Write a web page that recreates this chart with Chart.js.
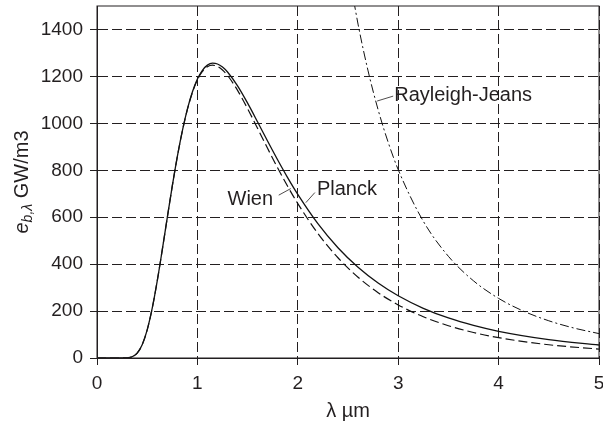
<!DOCTYPE html>
<html>
<head>
<meta charset="utf-8">
<script src="https://cdn.jsdelivr.net/npm/chart.js@4/dist/chart.umd.min.js"></script>
<style>
    html, body { margin: 0; padding: 0; background: #fff; }
    #wrap { width: 603px; height: 421px; }
</style>
</head>
<body>
<div id="wrap"><canvas id="bbChart" width="603" height="421"></canvas></div>
<script>
// Datos (T = 2500 K), GW/m3
const lambdaPW = [0, 0.1, 0.2, 0.3, 0.35, 0.4, 0.45, 0.5, 0.55, 0.6, 0.65, 0.7, 0.75, 0.8, 0.85, 0.9, 0.95,
    1.0, 1.05, 1.1, 1.15, 1.2, 1.25, 1.3, 1.4, 1.5, 1.6, 1.7, 1.8, 1.9, 2.0, 2.2, 2.4, 2.6, 2.8, 3.0,
    3.25, 3.5, 3.75, 4.0, 4.5, 5.0];
const planckValues = [0, 0, 0, 0.7, 5.2, 20.6, 56.6, 120.1, 212.2, 328.6, 460.7, 598.3, 733.5, 858.4, 968.2, 1060.3, 1133.6,
    1188.7, 1226.1, 1248.0, 1256.3, 1252.8, 1239.8, 1218.8, 1159.6, 1085.9, 1005.6, 923.7, 843.9, 767.9, 697.3, 572.6, 469.9, 386.5, 319.3, 265.1,
    211.7, 170.5, 138.6, 113.6, 78.2, 55.4];
const wienValues = [0, 0, 0, 0.7, 5.2, 20.6, 56.6, 120.1, 212.2, 328.5, 460.6, 598.2, 733.2, 857.7, 967.2, 1058.5, 1130.9,
    1184.9, 1221.2, 1241.5, 1247.9, 1242.4, 1227.3, 1204.3, 1140.5, 1062.5, 978.0, 892.4, 809.4, 730.8, 658.1, 530.7, 427.2, 344.3, 278.4, 226.1,
    175.7, 137.6, 108.8, 86.7, 56.4, 37.9];
const lambdaRJ = [2.5, 2.6, 2.7, 2.8, 2.9, 3.0, 3.25, 3.5, 3.75, 4.0, 4.25, 4.5, 4.75, 5.0];
const rjValues = [1664.5, 1422.8, 1223.5, 1057.8, 919.3, 802.7, 582.8, 433.3, 328.8, 254.0, 199.3, 158.6, 127.7, 104.0];

const xTicks = [0, 1, 2, 3, 4, 5];
const yTicks = [0, 200, 400, 600, 800, 1000, 1200, 1400];

// Etiquetas de las curvas (coordenadas en unidades de datos)
const curveLabels = [
    { text: 'Wien', at: [1.30, 677], from: [1.81, 694], to: [1.93, 722] },
    { text: 'Planck', at: [2.19, 720], from: [2.08, 662], to: [2.17, 705] },
    { text: 'Rayleigh-Jeans', at: [2.96, 1120], from: [2.79, 1095], to: [2.95, 1116] }
];

const FONT = "'Liberation Sans', Arial, Helvetica, sans-serif";
const INK = '#231f20';

function toPoints(xs, ys) {
    return xs.map((x, i) => ({ x: x, y: ys[i] }));
}

// Marco, etiquetas y titulos de ejes
const decorPlugin = {
    id: 'decor',
    afterDraw(chart) {
        const ctx = chart.ctx;
        const area = chart.chartArea;
        const xs = chart.scales.x;
        const ys = chart.scales.y;

        ctx.save();
        ctx.strokeStyle = INK;
        ctx.lineWidth = 1;
        ctx.setLineDash([]);
        ctx.strokeRect(area.left, area.top, area.right - area.left, area.bottom - area.top);

        // Etiquetas con linea guia
        ctx.fillStyle = INK;
        ctx.font = '20px ' + FONT;
        ctx.textAlign = 'left';
        ctx.textBaseline = 'middle';
        curveLabels.forEach(lbl => {
            ctx.beginPath();
            ctx.moveTo(xs.getPixelForValue(lbl.from[0]), ys.getPixelForValue(lbl.from[1]));
            ctx.lineTo(xs.getPixelForValue(lbl.to[0]), ys.getPixelForValue(lbl.to[1]));
            ctx.lineWidth = 0.8;
            ctx.stroke();
            ctx.fillText(lbl.text, xs.getPixelForValue(lbl.at[0]), ys.getPixelForValue(lbl.at[1]));
        });

        // Titulo eje x
        ctx.textAlign = 'center';
        ctx.fillText('\u03bb \u00b5m', (area.left + area.right) / 2, 411);

        // Titulo eje y: e_{b,λ} GW/m3
        const main = '20px ' + FONT;
        const ital = 'italic 20px ' + FONT;
        const sub = 'italic 14px ' + FONT;
        ctx.font = ital; const w1 = ctx.measureText('e').width;
        ctx.font = sub; const w2 = ctx.measureText('b,\u03bb').width;
        ctx.font = main; const w3 = ctx.measureText(' GW/m3').width;
        const total = w1 + w2 + w3;
        ctx.translate(21, (area.top + area.bottom) / 2);
        ctx.rotate(-Math.PI / 2);
        ctx.textAlign = 'left';
        ctx.textBaseline = 'alphabetic';
        let cx = -total / 2;
        ctx.font = ital; ctx.fillText('e', cx, 7); cx += w1;
        ctx.font = sub; ctx.fillText('b,\u03bb', cx, 11); cx += w2;
        ctx.font = main; ctx.fillText(' GW/m3', cx, 7);
        ctx.restore();
    }
};

document.addEventListener('DOMContentLoaded', function() {
    const ctx = document.getElementById('bbChart');

    const gridOpts = {
        color: INK,
        tickBorderDash: [1, 0],
        tickLength: 7,
        tickColor: INK
    };
    const borderOpts = { display: true, color: INK, width: 1, dash: [10, 4] };

    new Chart(ctx, {
        type: 'line',
        data: {
            datasets: [{
                label: 'Planck',
                data: toPoints(lambdaPW, planckValues),
                borderColor: '#111',
                borderWidth: 1.3,
                pointRadius: 0,
                cubicInterpolationMode: 'monotone'
            }, {
                label: 'Wien',
                data: toPoints(lambdaPW, wienValues),
                borderColor: '#111',
                borderWidth: 1.2,
                borderDash: [9, 4],
                pointRadius: 0,
                cubicInterpolationMode: 'monotone'
            }, {
                label: 'Rayleigh-Jeans',
                data: toPoints(lambdaRJ, rjValues),
                borderColor: '#111',
                borderWidth: 1,
                borderDash: [9, 3, 2, 3],
                pointRadius: 0,
                cubicInterpolationMode: 'monotone'
            }]
        },
        options: {
            responsive: false,
            animation: false,
            layout: { padding: { top: 6, right: 4, left: 0, bottom: 0 } },
            plugins: {
                legend: { display: false },
                tooltip: { enabled: false }
            },
            scales: {
                x: {
                    type: 'linear',
                    min: 0,
                    max: 5,
                    afterBuildTicks: scale => { scale.ticks = xTicks.map(v => ({ value: v })); },
                    afterFit: scale => {
                        scale.height = 63;
                        scale.paddingLeft = 0;
                        scale.paddingRight = 0;
                    },
                    grid: gridOpts,
                    border: borderOpts,
                    ticks: {
                        color: INK,
                        padding: 7,
                        maxRotation: 0,
                        font: { family: FONT, size: 19 },
                        callback: v => String(v)
                    }
                },
                y: {
                    min: 0,
                    max: 1500,
                    afterBuildTicks: scale => { scale.ticks = yTicks.map(v => ({ value: v })); },
                    afterFit: scale => {
                        scale.width = 97;
                        scale.paddingTop = 0;
                        scale.paddingBottom = 0;
                    },
                    grid: gridOpts,
                    border: borderOpts,
                    ticks: {
                        color: INK,
                        padding: 7,
                        font: { family: FONT, size: 19 },
                        callback: v => String(v)
                    }
                }
            }
        },
        plugins: [decorPlugin]
    });
});
</script>
</body>
</html>
